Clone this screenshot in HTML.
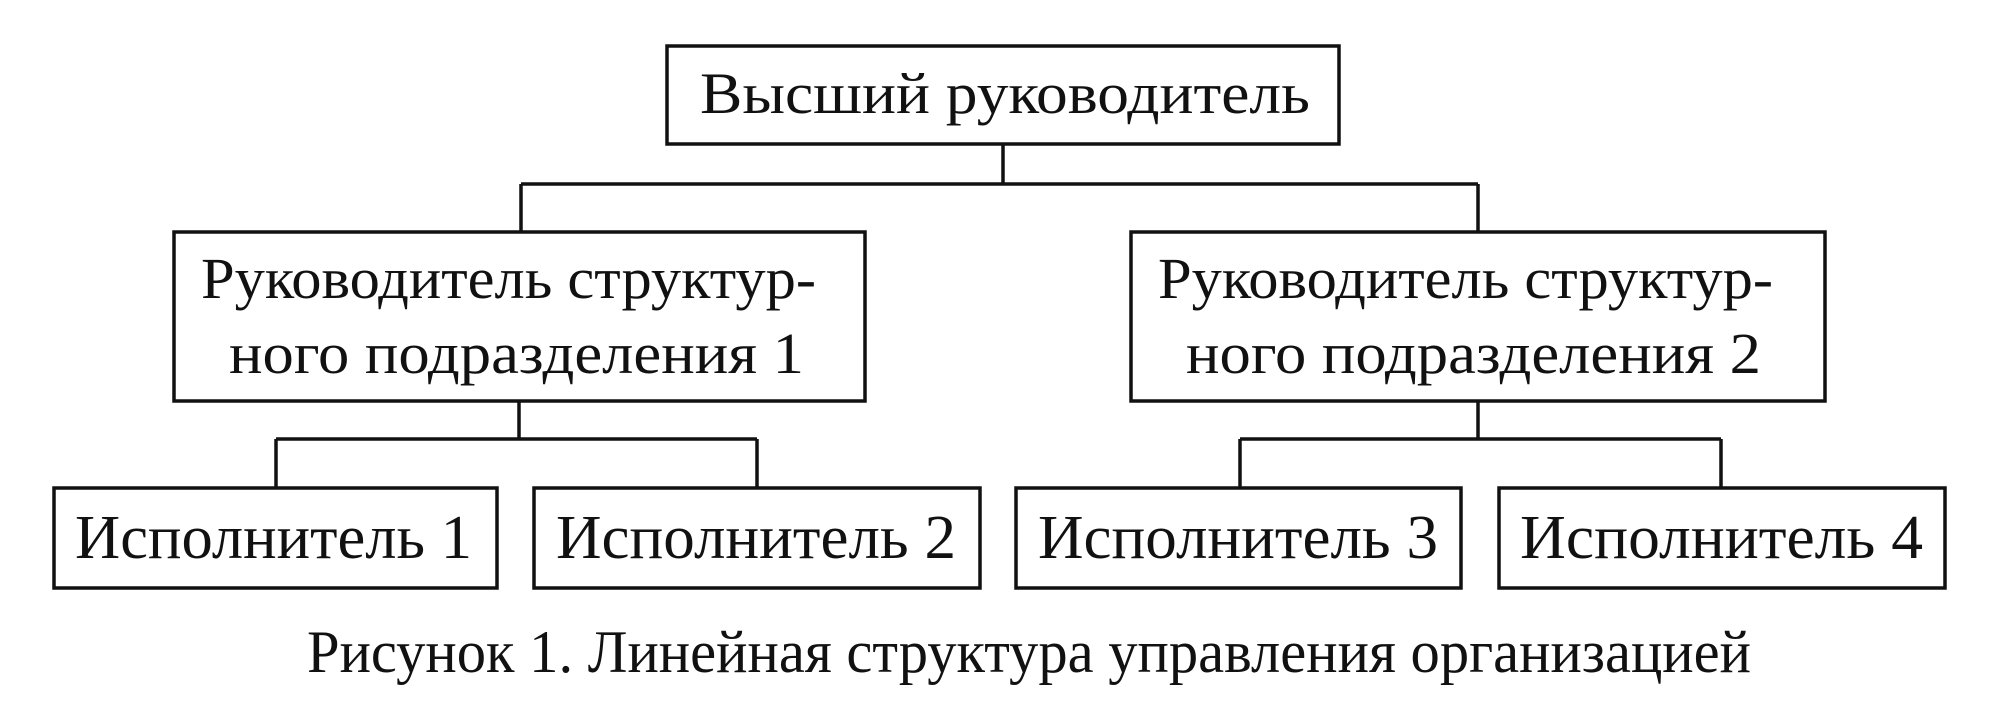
<!DOCTYPE html>
<html><head><meta charset="utf-8"><style>html,body{margin:0;padding:0;background:#fff}svg{display:block}</style></head>
<body>
<svg width="1993" height="717" viewBox="0 0 1993 717" xmlns="http://www.w3.org/2000/svg" font-family="Liberation Serif, serif" fill="#111">
<g fill="none" stroke="#111" stroke-width="3.5">
<rect x="667" y="46" width="672" height="98"/>
<rect x="174" y="232" width="691" height="169"/>
<rect x="1131" y="232" width="694" height="169"/>
<rect x="54" y="488" width="443" height="100"/>
<rect x="534" y="488" width="446" height="100"/>
<rect x="1016" y="488" width="445" height="100"/>
<rect x="1499" y="488" width="446" height="100"/>
<path d="M1003 144V184M521 184H1478M521 184V232M1478 184V232"/>
<path d="M519 401V439M276 439H757M276 439V488M757 439V488"/>
<path d="M1478 401V439M1240 439H1721M1240 439V488M1721 439V488"/>
</g>
<g font-size="58">
<text x="700" y="113" textLength="610" lengthAdjust="spacingAndGlyphs">Высший руководитель</text>
<text x="201" y="298" textLength="615" lengthAdjust="spacingAndGlyphs">Руководитель структур-</text>
<text x="229" y="373" textLength="575" lengthAdjust="spacingAndGlyphs">ного подразделения 1</text>
<text x="1158" y="298" textLength="615" lengthAdjust="spacingAndGlyphs">Руководитель структур-</text>
<text x="1186" y="373" textLength="575" lengthAdjust="spacingAndGlyphs">ного подразделения 2</text>
</g>
<g font-size="62">
<text x="75" y="558" textLength="397" lengthAdjust="spacingAndGlyphs">Исполнитель 1</text>
<text x="556" y="558" textLength="400" lengthAdjust="spacingAndGlyphs">Исполнитель 2</text>
<text x="1038" y="558" textLength="400" lengthAdjust="spacingAndGlyphs">Исполнитель 3</text>
<text x="1520" y="558" textLength="403" lengthAdjust="spacingAndGlyphs">Исполнитель 4</text>
</g>
<text x="307" y="672" font-size="60" textLength="1444" lengthAdjust="spacingAndGlyphs">Рисунок 1. Линейная структура управления организацией</text>
</svg>
</body></html>
